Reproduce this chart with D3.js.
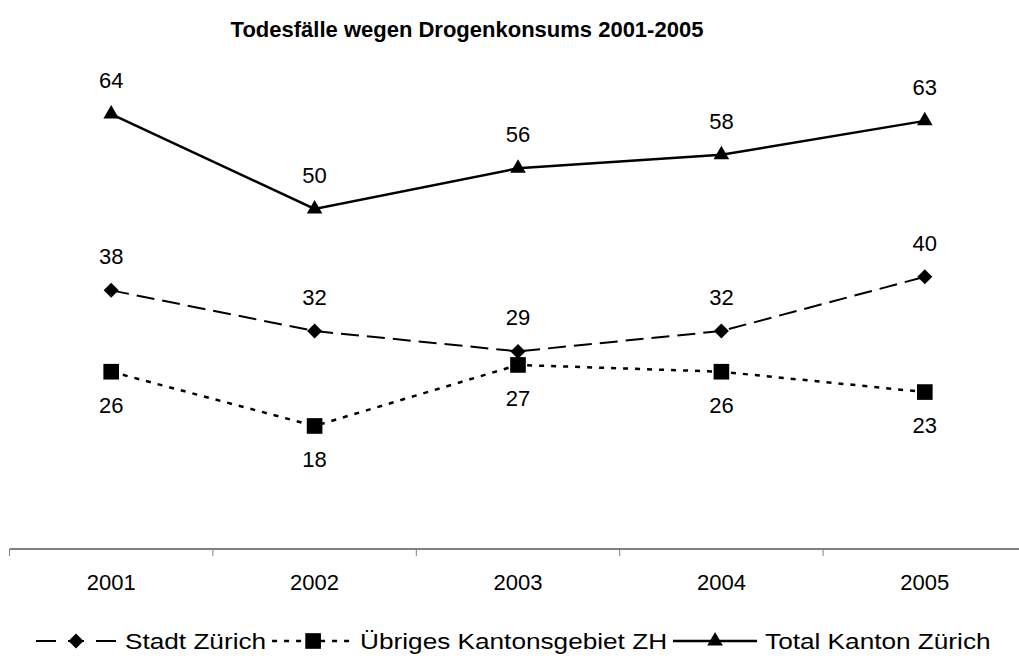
<!DOCTYPE html>
<html>
<head>
<meta charset="utf-8">
<script src="https://cdn.jsdelivr.net/npm/d3@7"></script>
<style>
  body { margin: 0; background: #fff; }
  svg { display: block; font-family: "Liberation Sans", Arial, sans-serif; }
</style>
</head>
<body>
<svg id="chart" width="1019" height="659"></svg>
<script>
var years = ["2001", "2002", "2003", "2004", "2005"];
var stadtZuerich = [38, 32, 29, 32, 40];
var uebrigesKanton = [26, 18, 27, 26, 23];
var totalKanton = [64, 50, 56, 58, 63];
var seriesNames = ["Stadt Zürich", "Übriges Kantonsgebiet ZH", "Total Kanton Zürich"];
var title = "Todesfälle wegen Drogenkonsums 2001-2005";

var svg = d3.select("#chart");

var x = d3.scaleBand().domain(years).range([9.5, 1026.5]);
var y = d3.scaleLinear().domain([0, 70]).range([548, 73.4]);
var cx = function(i) { return x(years[i]) + x.bandwidth() / 2; };

var series = [
  { name: seriesNames[0], values: stadtZuerich, dash: "18,8", legendDash: "20,12,16,12,20", width: 2,
    symbol: d3.symbolDiamond, size: 65, stretch: 1.73, above: true },
  { name: seriesNames[1], values: uebrigesKanton, dash: "5,7", legendDash: "5,7", width: 2.5,
    symbol: d3.symbolSquare, size: 245, stretch: 1, above: false },
  { name: seriesNames[2], values: totalKanton, dash: null, legendDash: null, width: 2.5,
    symbol: d3.symbolTriangle, size: 105, stretch: 1, above: true }
];

svg.append("text")
  .attr("x", 467)
  .attr("y", 37)
  .attr("text-anchor", "middle")
  .attr("font-size", 22)
  .attr("font-weight", "bold")
  .text(title);

// x axis
var axisY = y(0) + 1;
svg.append("line")
  .attr("x1", 9.5).attr("x2", 1019)
  .attr("y1", axisY).attr("y2", axisY)
  .attr("stroke", "#808080").attr("stroke-width", 2);

svg.append("g").selectAll("line")
  .data(years)
  .enter().append("line")
  .attr("x1", function(d) { return x(d); })
  .attr("x2", function(d) { return x(d); })
  .attr("y1", axisY)
  .attr("y2", axisY + 7)
  .attr("stroke", "#808080").attr("stroke-width", 1);

svg.append("g").selectAll("text")
  .data(years)
  .enter().append("text")
  .attr("x", function(d) { return x(d) + x.bandwidth() / 2; })
  .attr("y", 590)
  .attr("text-anchor", "middle")
  .attr("font-size", 22)
  .text(function(d) { return d; });

var line = d3.line()
  .x(function(d, i) { return cx(i); })
  .y(function(d) { return y(d); });

series.forEach(function(s) {
  svg.append("path")
    .attr("d", line(s.values))
    .attr("fill", "none")
    .attr("stroke", "#000")
    .attr("stroke-width", s.width)
    .attr("stroke-dasharray", s.dash);

  svg.append("g").selectAll("path")
    .data(s.values)
    .enter().append("path")
    .attr("d", d3.symbol().type(s.symbol).size(s.size))
    .attr("transform", function(d, i) {
      return "translate(" + cx(i) + "," + y(d) + ") scale(" + s.stretch + ",1)";
    })
    .attr("fill", "#000");

  svg.append("g").selectAll("text")
    .data(s.values)
    .enter().append("text")
    .attr("x", function(d, i) { return cx(i); })
    .attr("y", function(d) { return s.above ? y(d) - 26 : y(d) + 41; })
    .attr("text-anchor", "middle")
    .attr("font-size", 22)
    .text(function(d) { return d; });
});

// legend
var legend = svg.append("g").attr("transform", "translate(0,641)");
var textStretch = 1.19;
var cursor = 36;
var sampleW = [80, 82, 84];
var gapBefore = [9, 6, 8];
series.forEach(function(s, i) {
  var g = legend.append("g");
  g.append("line")
    .attr("x1", cursor).attr("x2", cursor + sampleW[i])
    .attr("y1", 0).attr("y2", 0)
    .attr("stroke", "#000")
    .attr("stroke-width", s.width)
    .attr("stroke-dasharray", s.legendDash);
  g.append("path")
    .attr("d", d3.symbol().type(s.symbol).size(s.size))
    .attr("transform", "translate(" + (cursor + sampleW[i] / 2) + ",0) scale(" + s.stretch + ",1)")
    .attr("fill", "#000");
  var tx = cursor + sampleW[i] + gapBefore[i];
  var t = g.append("text")
    .attr("transform", "translate(" + tx + ",8) scale(" + textStretch + ",1)")
    .attr("font-size", 22)
    .text(s.name);
  cursor = tx + t.node().getComputedTextLength() * textStretch + 6;
});
</script>
</body>
</html>
